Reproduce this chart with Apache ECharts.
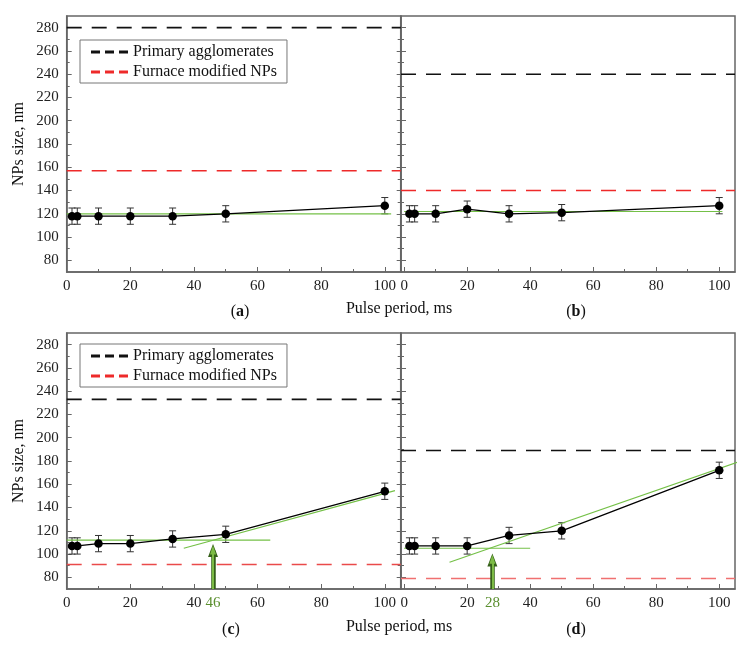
<!DOCTYPE html>
<html>
<head>
<meta charset="utf-8">
<script src="https://cdn.jsdelivr.net/npm/echarts@6/dist/echarts.min.js"></script>
<style>
  html, body { margin: 0; padding: 0; background: #fff; }
  #chart { width: 751px; height: 647px; }
</style>
</head>
<body>
<div id="chart"></div>
<script>
  // pulse period, ms
  var periods = [1.67, 3.33, 10, 20, 33.3, 50, 100];
  // NPs size, nm (panels a-d)
  var sizeA = [118, 118, 118, 118, 118, 120, 127];
  var sizeB = [120, 120, 120, 124, 120, 121, 127];
  var sizeC = [107, 107, 109, 109, 113, 117, 154];
  var sizeD = [107, 107, 107, 107, 116, 120, 172];
  var errA = [7, 7, 7, 7, 7, 7, 7];
  var errB = [7, 7, 7, 7, 7, 7, 7];
  var errC = [7, 7, 7, 7, 7, 7, 7];
  var errD = [7, 7, 7, 7, 7, 7, 7];
  // reference levels
  var primaryLevel = [280, 240, 233, 189];
  var furnaceLevel = [157, 140, 91, 79];
  // fitted lines: start and end points
  var fitA = [[[0, 120], [102, 120]]];
  var fitB = [[[0, 122], [101, 122]]];
  var fitC = [[[0, 112], [64, 112]], [[36.8, 105], [103.2, 154.6]]];
  var fitD = [[[0, 105], [40, 105]], [[14.4, 93], [106.2, 179.4]]];
  // knee points marked with arrows
  var kneeC = 46, kneeD = 28;
  var arrowTipC = 109, arrowTipD = 101;
  // ticks
  var xTicks = [0, 20, 40, 60, 80, 100];
  var xMinor = [10, 30, 50, 70, 90];
  var yTicks = [80, 100, 120, 140, 160, 180, 200, 220, 240, 260, 280];
  var yMinor = [90, 110, 130, 150, 170, 190, 210, 230, 250, 270];

  var serif = '"Liberation Serif", "DejaVu Serif", serif';
  var frame = '#666';
  var green = '#74c047';

  var panels = [
    {left: 66.7, top: 16, xmin: 0, size: sizeA, err: errA, fits: fitA, labels: true, red: '#ee2a2a'},
    {left: 401, top: 16, xmin: -1, size: sizeB, err: errB, fits: fitB, labels: false, red: '#ee2a2a'},
    {left: 66.7, top: 333, xmin: 0, size: sizeC, err: errC, fits: fitC, labels: true, red: '#ea4a4a', knee: kneeC, tip: arrowTipC},
    {left: 401, top: 333, xmin: -1, size: sizeD, err: errD, fits: fitD, labels: false, red: '#f07070', knee: kneeD, tip: arrowTipD}
  ];

  var grids = [], xAxes = [], yAxes = [], series = [];

  function yAxis(g, pos, len, ticks) {
    return {
      gridIndex: g, type: 'value', min: 70, max: 290, position: pos,
      axisLine: {show: false, onZero: false},
      axisTick: {inside: true, length: len, customValues: ticks, lineStyle: {color: frame}},
      axisLabel: {show: false}, splitLine: {show: false}
    };
  }

  panels.forEach(function (p, g) {
    grids.push({left: p.left, top: p.top, width: 334, height: 256, show: true,
      borderColor: frame, borderWidth: 1.5, backgroundColor: 'transparent'});

    var labelVals = xTicks.slice();
    if (p.knee) { labelVals.push(p.knee); labelVals.sort(function (a, b) { return a - b; }); }

    var xi = xAxes.length;
    xAxes.push({
      gridIndex: g, type: 'value', min: p.xmin, max: 105, position: 'bottom',
      axisLine: {onZero: false, lineStyle: {color: frame, width: 1.5}},
      axisTick: {inside: true, length: 5, customValues: xTicks, lineStyle: {color: frame}},
      axisLabel: {customValues: labelVals, margin: 7, fontFamily: serif, fontSize: 15, color: '#222',
        formatter: function (v) { return v === p.knee ? '{g|' + v + '}' : v; },
        rich: {g: {color: '#5a8f2e', fontFamily: serif, fontSize: 15}}},
      splitLine: {show: false}
    });
    xAxes.push({
      gridIndex: g, type: 'value', min: p.xmin, max: 105, position: 'bottom',
      axisLine: {show: false, onZero: false},
      axisTick: {inside: true, length: 3, customValues: xMinor, lineStyle: {color: frame}},
      axisLabel: {show: false}, splitLine: {show: false}
    });

    var yi = yAxes.length;
    yAxes.push({
      gridIndex: g, type: 'value', min: 70, max: 290, position: 'left',
      name: p.labels ? 'NPs size, nm' : '', nameLocation: 'middle', nameGap: 40,
      nameTextStyle: {fontFamily: serif, fontSize: 16, color: '#111'},
      axisLine: {onZero: false, lineStyle: {color: frame, width: 1.5}},
      axisTick: {inside: true, length: 5, customValues: yTicks, lineStyle: {color: frame}},
      axisLabel: {show: p.labels, customValues: yTicks, margin: 8, fontFamily: serif, fontSize: 15, color: '#222'},
      splitLine: {show: false}
    });
    yAxes.push(yAxis(g, 'left', 3, yMinor));
    if (p.labels) {
      // inner ticks on the shared middle border
      yAxes.push(yAxis(g, 'right', 4, yTicks));
      yAxes.push(yAxis(g, 'right', 3, yMinor));
    }

    // reference levels
    series.push({
      name: 'Primary agglomerates', type: 'line', xAxisIndex: xi, yAxisIndex: yi,
      data: [[p.xmin, primaryLevel[g]], [105, primaryLevel[g]]],
      symbol: 'none', silent: true, itemStyle: {color: '#111'},
      lineStyle: {color: '#111', width: 1.6, type: [15, 10]}, z: 2
    });
    series.push({
      name: 'Furnace modified NPs', type: 'line', xAxisIndex: xi, yAxisIndex: yi,
      data: [[p.xmin, furnaceLevel[g]], [105, furnaceLevel[g]]],
      symbol: 'none', silent: true, itemStyle: {color: p.red},
      lineStyle: {color: p.red, width: 1.6, type: [15, 10]}, z: 2
    });

    // fits
    p.fits.forEach(function (seg) {
      series.push({
        type: 'line', xAxisIndex: xi, yAxisIndex: yi, data: seg, symbol: 'none',
        silent: true, clip: false, lineStyle: {color: green, width: 1.2}, z: 4
      });
    });

    // error bars
    series.push({
      type: 'custom', xAxisIndex: xi, yAxisIndex: yi, z: 3,
      data: periods.map(function (x, j) { return [x, p.size[j], p.err[j]]; }),
      encode: {x: 0, y: 1},
      renderItem: function (params, api) {
        var x = api.value(0), y = api.value(1), e = api.value(2);
        var top = api.coord([x, y + e]);
        var bot = api.coord([x, y - e]);
        var st = {stroke: '#333', lineWidth: 1};
        return {type: 'group', children: [
          {type: 'line', shape: {x1: top[0], y1: top[1], x2: bot[0], y2: bot[1]}, style: st},
          {type: 'line', shape: {x1: top[0] - 3.5, y1: top[1], x2: top[0] + 3.5, y2: top[1]}, style: st},
          {type: 'line', shape: {x1: bot[0] - 3.5, y1: bot[1], x2: bot[0] + 3.5, y2: bot[1]}, style: st}
        ]};
      }
    });

    // measured sizes
    series.push({
      type: 'line', xAxisIndex: xi, yAxisIndex: yi, z: 5,
      data: periods.map(function (x, j) { return [x, p.size[j]]; }),
      symbol: 'circle', symbolSize: 8.5, itemStyle: {color: '#000'},
      lineStyle: {color: '#000', width: 1.3}
    });

    if (p.knee) {
      // arrow: dark outline, light core
      [{c: '#35601a', w: 4.5, s: [10, 13]}, {c: '#7cbb45', w: 2, s: [6, 9]}].forEach(function (a, k) {
        series.push({
          type: 'line', xAxisIndex: xi, yAxisIndex: yi, data: [], z: 6 + k,
          markLine: {
            silent: true, animation: false, symbol: ['none', 'triangle'], symbolSize: a.s,
            label: {show: false},
            lineStyle: {color: a.c, width: a.w, type: 'solid'},
            data: [[{coord: [p.knee, 70]}, {coord: [p.knee, p.tip - 6 + k * 0.5]}]]
          }
        });
      });
    }
  });

  var dashIcon = 'path://M0,0h9v3h-9z M14,0h9v3h-9z M28,0h9v3h-9z';

  var legends = [40, 344].map(function (t) {
    return {
      left: 80, top: t, orient: 'vertical', itemGap: 4, padding: [4, 10, 3, 11],
      borderColor: '#777', borderWidth: 1, itemWidth: 37, itemHeight: 3,
      icon: dashIcon, selectedMode: false,
      textStyle: {fontFamily: serif, fontSize: 16, color: '#111', lineHeight: 16},
      data: [
        {name: 'Primary agglomerates', itemStyle: {color: '#111', borderWidth: 0}},
        {name: 'Furnace modified NPs', itemStyle: {color: '#ee2a2a', borderWidth: 0}}
      ]
    };
  });

  function caption(x, y, text) {
    return {type: 'text', x: x, y: y, silent: true,
      style: {text: text, fontFamily: serif, fontSize: 16, fill: '#111', align: 'center', verticalAlign: 'middle',
        rich: {b: {fontFamily: serif, fontSize: 16, fontWeight: 'bold', fill: '#111'}}}};
  }

  var chart = echarts.init(document.getElementById('chart'));
  chart.setOption({
    animation: false,
    grid: grids,
    xAxis: xAxes,
    yAxis: yAxes,
    legend: legends,
    series: series,
    graphic: [
      caption(399, 309, 'Pulse period, ms'),
      caption(240, 312, '({b|a})'),
      caption(576, 312, '({b|b})'),
      caption(399, 627, 'Pulse period, ms'),
      caption(231, 630, '({b|c})'),
      caption(576, 630, '({b|d})')
    ]
  });
</script>
</body>
</html>
